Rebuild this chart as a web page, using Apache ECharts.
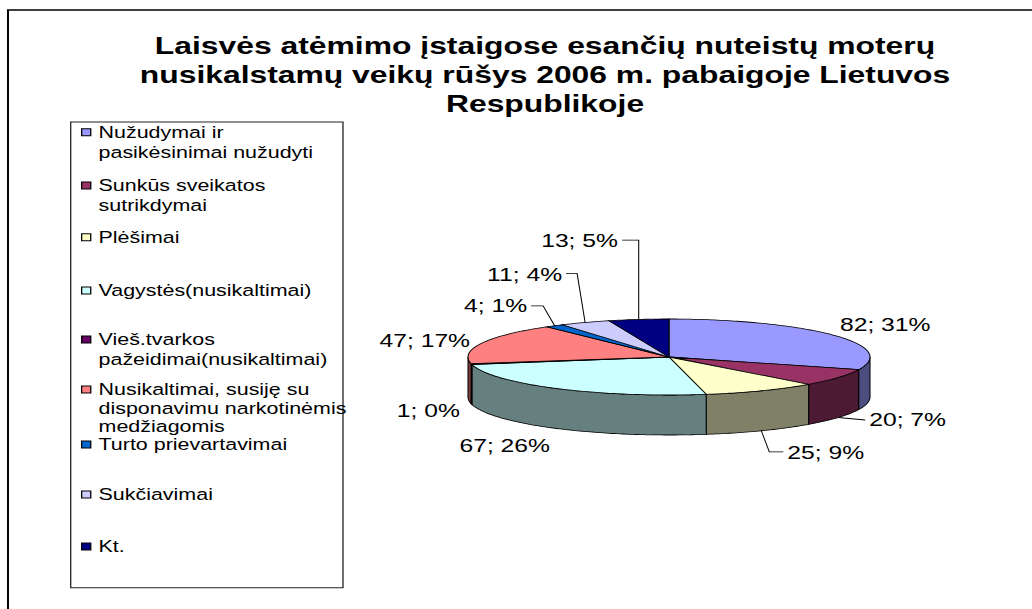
<!DOCTYPE html>
<html><head><meta charset="utf-8">
<script src="https://cdn.jsdelivr.net/npm/echarts@6/dist/echarts.min.js"></script>
<style>
html,body{margin:0;padding:0;background:#fff;overflow:hidden;width:1032px;height:609px}
#wrap{width:1032px;height:609px;overflow:hidden;position:relative}
#c{width:794px;height:609px;transform:scaleX(1.29975);transform-origin:0 0}
</style></head><body><div id="wrap"><div id="c"></div></div>
<script>
// ---- data ----
const titleText = 'Laisvės atėmimo įstaigose esančių nuteistų moterų\nnusikalstamų veikų rūšys 2006 m. pabaigoje Lietuvos\nRespublikoje';
const categories = [
  'Nužudymai ir\npasikėsinimai nužudyti',
  'Sunkūs sveikatos\nsutrikdymai',
  'Plėšimai',
  'Vagystės(nusikaltimai)',
  'Vieš.tvarkos\npažeidimai(nusikaltimai)',
  'Nusikaltimai, susiję su\ndisponavimu narkotinėmis\nmedžiagomis',
  'Turto prievartavimai',
  'Sukčiavimai',
  'Kt.'
];
const values = [82, 20, 25, 67, 1, 47, 4, 11, 13];
const percentLabels = [31, 7, 9, 26, 0, 17, 1, 4, 5];
const colors = ['#9999FF','#993366','#FFFFCC','#CCFFFF','#660066','#FF8080','#0066CC','#CCCCFF','#000080'];

// ---- layout (reference pixel space; x is divided by S) ----
const S = 1032 / 794;
const FONT = "'Liberation Sans', Arial, sans-serif";
const pie = {cx: 669, cy: 357, rx: 201, ry: 38, depth: 40};
const legendLineY = [131.7, 185, 236.7, 290, 339, 389, 443.5, 494, 546];
const legendLineH = [20, 20, 20, 20, 20, 18.5, 16, 20, 20];
const labelLayout = [
  {dx: 7, dy: -10, align: 'left'},
  {dx: 31, dy: 2.5, align: 'left', leader: true},
  {dx: 26, dy: 22.2, align: 'left', leader: true, elbow: 18, ly: -1},
  {dx: -6.6, dy: 17.5, align: 'right'},
  {dx: -11.5, dy: 7, align: 'right'},
  {dx: -11.7, dy: -3, align: 'right'},
  {dx: -27.6, dy: -19.8, align: 'right', leader: true, elbow: 16},
  {dx: -23, dy: -47.5, align: 'right', leader: true, elbow: 15, ly: -1.5},
  {dx: -20.7, dy: -78.4, align: 'right', leader: true, elbow: 20.7, ly: -1}
];

const total = values.reduce((a, b) => a + b, 0);
const startAngles = [];
(function () { let acc = 0; values.forEach(v => { startAngles.push(acc / total * 2 * Math.PI); acc += v; }); })();

function darken(hex) {
  const n = parseInt(hex.slice(1), 16);
  const r = ((n >> 16) & 255) * 0.5, g = ((n >> 8) & 255) * 0.5, b = (n & 255) * 0.5;
  return 'rgb(' + Math.round(r) + ',' + Math.round(g) + ',' + Math.round(b) + ')';
}
function pt(theta, dz) {
  return [(pie.cx + pie.rx * Math.sin(theta)) / S, pie.cy - pie.ry * Math.cos(theta) + (dz || 0)];
}
function arc(a0, a1, dz) {
  const n = Math.max(2, Math.ceil((a1 - a0) / (Math.PI / 180)) + 1);
  const out = [];
  for (let k = 0; k < n; k++) out.push(pt(a0 + (a1 - a0) * k / (n - 1), dz));
  return out;
}

function renderSlice(params, api) {
  const i = params.seriesIndex;
  const v = api.value(0);
  const a0 = startAngles[i], a1 = a0 + v / total * 2 * Math.PI;
  const children = [];
  const t0 = Math.max(a0, Math.PI / 2), t1 = Math.min(a1, 1.5 * Math.PI);
  if (t1 > t0) {
    const top = arc(t0, t1, 0), bot = arc(t0, t1, pie.depth).reverse();
    children.push({type: 'polygon', shape: {points: top.concat(bot)},
      style: {fill: darken(colors[i]), stroke: '#000', lineWidth: 0.8}});
  }
  children.push({type: 'polygon', shape: {points: [[pie.cx / S, pie.cy]].concat(arc(a0, a1, 0))},
    style: {fill: colors[i], stroke: '#000', lineWidth: 0.8}});
  const mid = (a0 + a1) / 2;
  const front = Math.cos(mid) < 0;
  const anc = pt(mid, front ? pie.depth : 0);
  const ax = anc[0] * S, ay = anc[1];
  const L = labelLayout[i];
  const tx = ax + L.dx, ty = ay + L.dy;
  children.push({type: 'text', style: {text: values[i] + '; ' + percentLabels[i] + '%', x: tx / S, y: ty,
    align: L.align, verticalAlign: 'middle', fontSize: 19, fontFamily: FONT, fill: '#000'}});
  if (L.leader) {
    const sgn = L.align === 'right' ? 1 : -1;
    const ey = ty + (L.ly || 0);
    const pts = [[ax, ay]];
    if (L.elbow != null) pts.push([tx + sgn * L.elbow, ey]);
    pts.push([tx + sgn * 4, ey]);
    children.push({type: 'polyline', shape: {points: pts.map(p => [p[0] / S, p[1]])},
      style: {stroke: '#000', lineWidth: 0.8, fill: null}});
  }
  return {type: 'group', children: children};
}

const chart = echarts.init(document.getElementById('c'), null, {renderer: 'svg'});
chart.setOption({
  animation: false,
  backgroundColor: '#fff',
  title: {
    text: titleText, left: 545 / S, top: 30.5, textAlign: 'center', padding: 0,
    textStyle: {fontSize: 24.5, fontWeight: 'bold', fontFamily: FONT, lineHeight: 29, color: '#000'}
  },
  legend: categories.map((name, i) => {
    const N = name.split('\n').length;
    const LH = legendLineH[i];
    return {
      data: [name], orient: 'vertical', left: 81 / S, top: legendLineY[i] - (2 * N - 1) * LH / 2 + 0.5,
      padding: 0, icon: 'rect', itemWidth: 7, itemHeight: 7, selectedMode: false,
      itemStyle: {borderColor: '#000', borderWidth: 1},
      formatter: n => '\n'.repeat(N - 1) + n,
      textStyle: {fontSize: 16.5, fontFamily: FONT, color: '#000', lineHeight: LH, padding: [0, 0, 0, 1]}
    };
  }),
  graphic: [
    {type: 'rect', silent: true, z: -10, shape: {x: 8 / S, y: 10, width: 1100, height: 700},
      style: {fill: 'transparent', stroke: '#000', lineWidth: 1.5}},
    {type: 'rect', silent: true, z: -10, shape: {x: 70.7 / S, y: 122, width: (343 - 70.7) / S, height: 465.7},
      style: {fill: 'transparent', stroke: '#222', lineWidth: 1}}
  ],
  series: categories.map((name, i) => ({
    type: 'custom', name: name, coordinateSystem: 'none', silent: true,
    itemStyle: {color: colors[i]},
    data: [[values[i]]],
    renderItem: renderSlice
  }))
});
</script>
</body></html>
